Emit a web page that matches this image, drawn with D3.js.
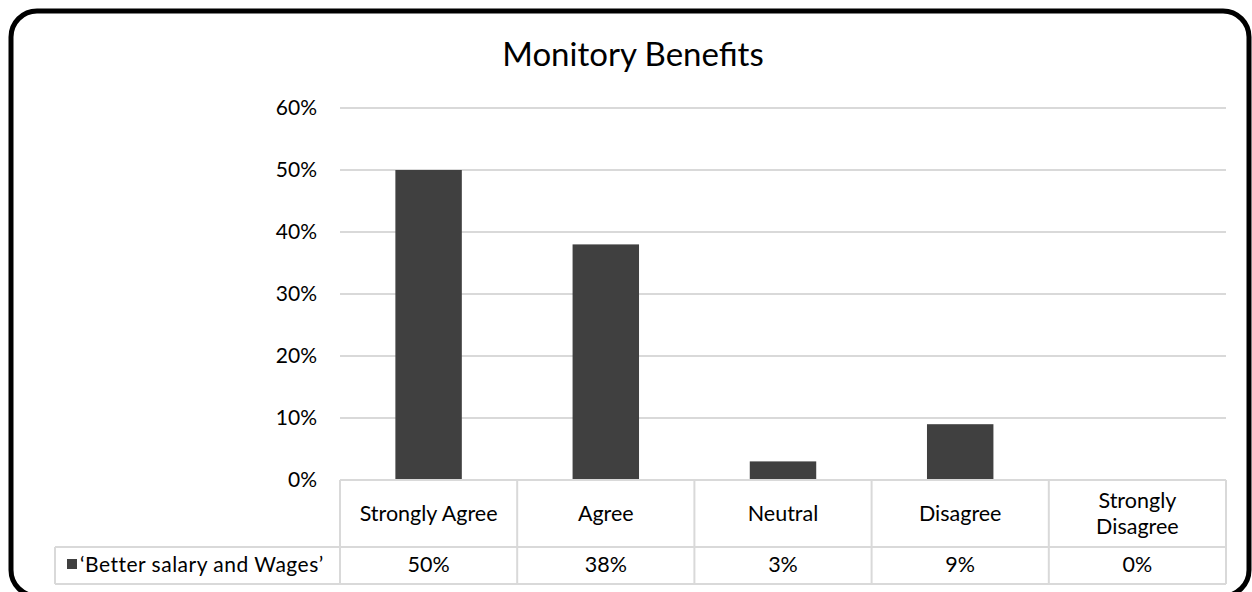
<!DOCTYPE html>
<html><head><meta charset="utf-8">
<script src="https://cdn.jsdelivr.net/npm/d3@7/dist/d3.min.js"></script>
<style>
html,body{margin:0;padding:0;background:#fff;overflow:hidden;}
svg{display:block;font-family:Lato,"Open Sans",sans-serif;}
</style></head>
<body>
<svg id="c" width="1252" height="592"></svg>
<script>
const title = "Monitory Benefits";
const categories = [["Strongly Agree"],["Agree"],["Neutral"],["Disagree"],["Strongly","Disagree"]];
const seriesName = "‘Better salary and Wages’";
const values = [0.50, 0.38, 0.03, 0.09, 0.00];
const yTicks = [0, 0.1, 0.2, 0.3, 0.4, 0.5, 0.6];

const svg = d3.select("#c");
// outer rounded border
svg.append("rect").attr("x",11).attr("y",11).attr("width",1238).attr("height",585)
  .attr("rx",26).attr("ry",26).attr("fill","#fff").attr("stroke","#000").attr("stroke-width",5);

const pLeft = 340, pRight = 1226, pTop = 108, pBottom = 480;
const x = d3.scaleBand().domain(d3.range(categories.length)).range([pLeft,pRight]).paddingInner(0).paddingOuter(0);
const y = d3.scaleLinear().domain([0,0.6]).range([pBottom,pTop]);

svg.append("text").attr("x",633).attr("y",66).attr("text-anchor","middle")
  .attr("font-size",33).attr("fill","#000").text(title);

// gridlines
svg.append("g").selectAll("line").data(yTicks.filter(d=>d>0)).join("line")
  .attr("x1",pLeft).attr("x2",pRight).attr("y1",d=>y(d)).attr("y2",d=>y(d))
  .attr("stroke","#d9d9d9").attr("stroke-width",2);

// y axis labels
const yAxis = d3.axisLeft(y).tickValues(yTicks).tickFormat(d3.format(".0%")).tickSize(0).tickPadding(23);
const ya = svg.append("g").attr("transform",`translate(${pLeft},0)`).call(yAxis);
ya.select(".domain").remove();
ya.selectAll("text").attr("font-size",21).attr("fill","#000").attr("font-family","Lato,'Open Sans',sans-serif");

// bars
const bw = x.bandwidth()*0.375;
svg.append("g").selectAll("rect").data(values).join("rect")
  .attr("x",(d,i)=>x(i)+x.bandwidth()/2-bw/2).attr("width",bw)
  .attr("y",d=>y(d)).attr("height",d=>pBottom-y(d)).attr("fill","#404040");

// data table
const rowMid = 547, rowBot = 584, legLeft = 55;
const tg = svg.append("g").attr("stroke","#d9d9d9").attr("stroke-width",2);
tg.append("line").attr("x1",pLeft).attr("x2",pRight).attr("y1",pBottom).attr("y2",pBottom);
tg.append("line").attr("x1",legLeft).attr("x2",pRight).attr("y1",rowMid).attr("y2",rowMid);
tg.append("line").attr("x1",legLeft).attr("x2",pRight).attr("y1",rowBot).attr("y2",rowBot);
tg.append("line").attr("x1",legLeft).attr("x2",legLeft).attr("y1",rowMid).attr("y2",rowBot);
const bounds = d3.range(categories.length+1).map(i=> i<categories.length ? x(i) : pRight);
tg.selectAll("line.v").data(bounds).join("line").attr("class","v")
  .attr("x1",d=>d).attr("x2",d=>d).attr("y1",pBottom).attr("y2",rowBot);

// header labels
const hg = svg.append("g").attr("font-size",21.5).attr("fill","#000").attr("text-anchor","middle");
categories.forEach((lines,i)=>{
  const cx = x(i)+x.bandwidth()/2;
  const lh = 26;
  const startY = (pBottom+rowMid)/2 - (lines.length-1)*lh/2 + 7;
  lines.forEach((t,j)=>{
    hg.append("text").attr("x",cx).attr("y",startY+j*lh).text(t);
  });
});
// values row
svg.append("g").attr("font-size",21.5).attr("fill","#000").attr("text-anchor","middle")
  .selectAll("text").data(values).join("text")
  .attr("x",(d,i)=>x(i)+x.bandwidth()/2).attr("y",572)
  .text(d=>d3.format(".0%")(d));

// legend cell
svg.append("rect").attr("x",67).attr("y",559).attr("width",10).attr("height",10).attr("fill","#404040");
svg.append("text").attr("x",80).attr("y",572).attr("font-size",21).attr("fill","#000")
  .attr("letter-spacing",0.5).text(seriesName);
</script>
</body></html>
